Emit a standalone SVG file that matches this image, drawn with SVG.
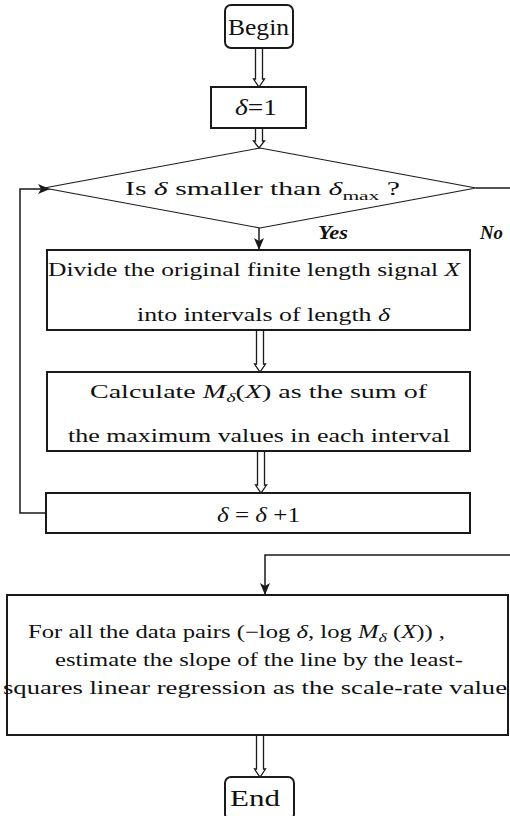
<svg xmlns="http://www.w3.org/2000/svg" width="510" height="816" viewBox="0 0 510 816">
<defs>
<style>
.box{fill:#fff;stroke:#1a1a1a;stroke-width:2}
.dia{fill:#fff;stroke:#1a1a1a;stroke-width:1.2}
.dbl{fill:#fff;stroke:#1a1a1a;stroke-width:1.3}
.con{fill:none;stroke:#1a1a1a;stroke-width:1.5}
.t{font-family:"Liberation Serif","Times New Roman",serif;font-size:18px;fill:#111}
.big{font-size:24px}
.mid{font-size:20px}
.i{font-style:italic}
.yn{font-family:"Liberation Serif","Times New Roman",serif;font-size:19px;font-weight:bold;font-style:italic;fill:#111}
</style>
<marker id="ah" viewBox="0 0 12 10" markerWidth="12" markerHeight="10" refX="12" refY="5" orient="auto" markerUnits="userSpaceOnUse">
<path d="M0,0 L12,5 L0,10 L3,5 z" fill="#1a1a1a"/>
</marker>
</defs>

<g id="connectors">
<path class="dbl" d="M255.5,48 V79 H253.5 L259,87 L264.5,79 H262.5 V48 Z"/>
<path class="dbl" d="M255.5,128 V141 H253.5 L259,148 L264.5,141 H262.5 V128 Z"/>
<path class="dbl" d="M256.5,330 V364 H254.5 L260,372 L265.5,364 H263.5 V330 Z"/>
<path class="dbl" d="M257.5,451 V485 H255.5 L261,493 L266.5,485 H264.5 V451 Z"/>
<path class="dbl" d="M256.5,735 V769 H254.5 L260,777 L265.5,769 H263.5 V735 Z"/>
<path class="con" d="M259,228 V250" marker-end="url(#ah)"/>
<path class="con" d="M46,513 H20 V189 H50" marker-end="url(#ah)"/>
<path class="con" d="M476,188 H520 V555 H265 V595" marker-end="url(#ah)"/>
</g>

<g id="begin">
<rect class="box" x="225" y="5" width="68" height="43" rx="6"/>
<text class="t big" x="228" y="35" textLength="61" lengthAdjust="spacingAndGlyphs">Begin</text>
</g>

<g id="init">
<rect class="box" x="211" y="87" width="95" height="41"/>
<text class="t big" x="235" y="115" textLength="42" lengthAdjust="spacingAndGlyphs"><tspan class="i">δ</tspan>=1</text>
</g>

<g id="decision">
<polygon class="dia" points="44,188 260,148 476,188 260,228"/>
<text class="t" x="125" y="195" textLength="275" lengthAdjust="spacingAndGlyphs">Is  <tspan class="i">δ</tspan>  smaller than <tspan class="i">δ</tspan><tspan font-size="13" dy="5">max</tspan><tspan dy="-5">   ?</tspan></text>
</g>

<g id="labels">
<text class="yn" x="318" y="239" textLength="30" lengthAdjust="spacingAndGlyphs">Yes</text>
<text class="yn" x="480" y="239" textLength="23" lengthAdjust="spacingAndGlyphs">No</text>
</g>

<g id="divide">
<rect class="box" x="47" y="250" width="423" height="80"/>
<text class="t" x="48" y="276" textLength="412" lengthAdjust="spacingAndGlyphs">Divide the original finite length signal <tspan class="i">X</tspan></text>
<text class="t" x="137" y="321" textLength="253" lengthAdjust="spacingAndGlyphs">into intervals of length <tspan class="i">δ</tspan></text>
</g>

<g id="calculate">
<rect class="box" x="47" y="372" width="423" height="79"/>
<text class="t" x="90" y="398" textLength="337" lengthAdjust="spacingAndGlyphs">Calculate  <tspan class="i">M</tspan><tspan class="i" font-size="13" dy="4">δ</tspan><tspan dy="-4">(</tspan><tspan class="i">X</tspan>)  as the sum of</text>
<text class="t" x="68" y="442" textLength="382" lengthAdjust="spacingAndGlyphs">the maximum values in each interval</text>
</g>

<g id="increment">
<rect class="box" x="46" y="493" width="424" height="40"/>
<text class="t mid" x="217" y="522" textLength="83" lengthAdjust="spacingAndGlyphs"><tspan class="i">δ</tspan> = <tspan class="i">δ</tspan> +1</text>
</g>

<g id="regression">
<rect class="box" x="7" y="595" width="501" height="140"/>
<text class="t" x="28" y="638" textLength="417" lengthAdjust="spacingAndGlyphs">For all the data pairs (−log <tspan class="i">δ</tspan>, log <tspan class="i">M</tspan><tspan class="i" font-size="13" dy="4">δ</tspan><tspan dy="-4"> (</tspan><tspan class="i">X</tspan>)) ,</text>
<text class="t" x="55" y="666" textLength="408" lengthAdjust="spacingAndGlyphs">estimate the slope of the line by the least-</text>
<text class="t" x="3" y="694" textLength="504" lengthAdjust="spacingAndGlyphs">squares linear regression as the scale-rate value</text>
</g>

<g id="end">
<rect class="box" x="225" y="777" width="69" height="43" rx="6"/>
<text class="t big" x="230" y="806" textLength="50" lengthAdjust="spacingAndGlyphs">End</text>
</g>
</svg>
